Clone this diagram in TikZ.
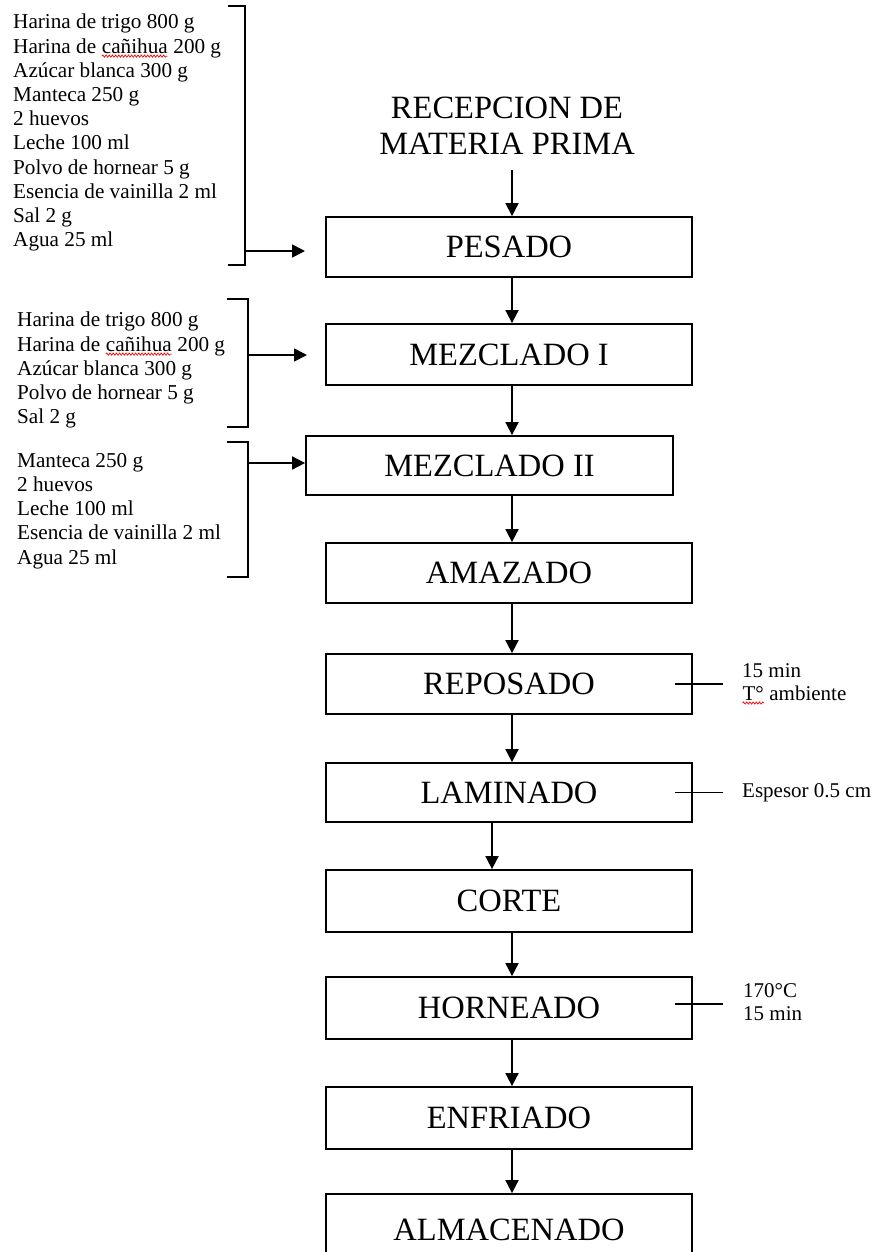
\documentclass[tikz,border=0pt]{standalone}
\usepackage{fontspec}
\setmainfont{Liberation Serif}
\usetikzlibrary{arrows.meta,decorations.pathmorphing}
\newcommand\redwave[1]{\tikz[baseline=(wv.base)]{\node[inner sep=0pt,outer sep=0pt] (wv) {#1}; \draw[red, line width=0.7pt, decorate, decoration={snake, amplitude=1.1pt, segment length=3.2pt}] ([yshift=-3pt]wv.base west) -- ([yshift=-3pt]wv.base east);}}
\begin{document}
\begin{tikzpicture}[x=1pt,y=-1pt,
  procbox/.style={draw, line width=1.8pt, minimum width=366pt, inner sep=0pt, font=\fontsize{32.5}{37}\selectfont},
  arr/.style={line width=1.8pt, -{Triangle[length=13pt,width=13pt]}},
  sideline/.style={line width=1.3pt},
  bracketline/.style={line width=1.5pt},
  ingr/.style={anchor=north west, inner sep=0pt, align=left, font=\fontsize{21.2}{24.2}\selectfont},
  note/.style={anchor=base west, inner sep=0pt, font=\fontsize{21}{24}\selectfont}]
\useasboundingbox[fill=white] (0,0) rectangle (874,1252);

\coordinate (colx) at (512,0);
\coordinate (colb) at (492,0);

% title
\node[anchor=north, inner sep=0pt, align=center, font=\fontsize{32.5}{36}\selectfont] (rec) at (507,97) {RECEPCION DE\\MATERIA PRIMA};

% process boxes
\node[procbox, minimum height=60pt] (pesado) at (509,247) {PESADO};
\node[procbox, minimum height=61pt] (mez1) at (509,354.5) {MEZCLADO I};
\node[procbox, minimum width=367pt, minimum height=59pt] (mez2) at (489.5,465.5) {MEZCLADO II};
\node[procbox, minimum height=60pt] (amaz) at (509,573) {AMAZADO};
\node[procbox, minimum height=60pt] (repo) at (509,684) {REPOSADO};
\node[procbox, minimum height=59pt] (lami) at (509,792.5) {LAMINADO};
\node[procbox, minimum height=62pt] (corte) at (509,901) {CORTE};
\node[procbox, minimum height=62pt] (horn) at (509,1008) {HORNEADO};
\node[procbox, minimum height=62pt] (enfr) at (509,1118) {ENFRIADO};
\node[procbox, minimum height=72pt] (alma) at (509,1230) {ALMACENADO};

% main flow arrows
\draw[arr, shorten <=15pt] (rec.south -| colx) -- (pesado.north -| colx);
\draw[arr] (pesado.south -| colx) -- (mez1.north -| colx);
\draw[arr] (mez1.south -| colx) -- (mez2.north -| colx);
\draw[arr] (mez2.south -| colx) -- (amaz.north -| colx);
\draw[arr] (amaz.south -| colx) -- (repo.north -| colx);
\draw[arr] (repo.south -| colx) -- (lami.north -| colx);
\draw[arr] (lami.south -| colb) -- (corte.north -| colb);
\draw[arr] (corte.south -| colx) -- (horn.north -| colx);
\draw[arr] (horn.south -| colx) -- (enfr.north -| colx);
\draw[arr] (enfr.south -| colx) -- (alma.north -| colx);

% ingredient lists
\node[ingr] (ing1) at (13,14) {Harina de trigo 800 g\\Harina de \redwave{cañihua} 200 g\\Azúcar blanca 300 g\\Manteca 250 g\\2 huevos\\Leche 100 ml\\Polvo de hornear 5 g\\Esencia de vainilla 2 ml\\Sal 2 g\\Agua 25 ml};
\node[ingr] (ing2) at (17,312) {Harina de trigo 800 g\\Harina de \redwave{cañihua} 200 g\\Azúcar blanca 300 g\\Polvo de hornear 5 g\\Sal 2 g};
\node[ingr] (ing3) at (17,453) {Manteca 250 g\\2 huevos\\Leche 100 ml\\Esencia de vainilla 2 ml\\Agua 25 ml};

% brackets
\draw[bracketline] (228,6) -- (245,6) -- (245,265) -- (228,265);
\draw[bracketline] (227,299) -- (248,299) -- (248,427) -- (227,427);
\draw[bracketline] (227,442) -- (248,442) -- (248,577) -- (227,577);

% bracket arrows
\coordinate (b1) at (245,251);
\coordinate (b1e) at (305,251);
\coordinate (b2) at (248,355);
\coordinate (b2e) at (307,355);
\coordinate (b3) at (248,463);
\draw[arr] (b1) -- (b1e);
\draw[arr] (b2) -- (b2e);
\draw[arr] (b3) -- (mez2.west |- b3);

% side notes
\draw[sideline] ([xshift=-18pt]repo.east) -- ++(48,0) coordinate (rl);
\draw[sideline] ([xshift=-18pt]lami.east) -- ++(48,0) coordinate (ll);
\draw[sideline] ([xshift=-18pt,yshift=4pt]horn.east) -- ++(48,0) coordinate (hl);
\node[note] (rep1) at (742,677) {15 min};
\node[note] (rep2) at (742,700) {\redwave{T°} ambiente};
\node[note] (lam1) at (742,797) {Espesor 0.5 cm};
\node[note] (hor1) at (743,997) {170°C};
\node[note] (hor2) at (743,1020) {15 min};
\end{tikzpicture}
\end{document}
